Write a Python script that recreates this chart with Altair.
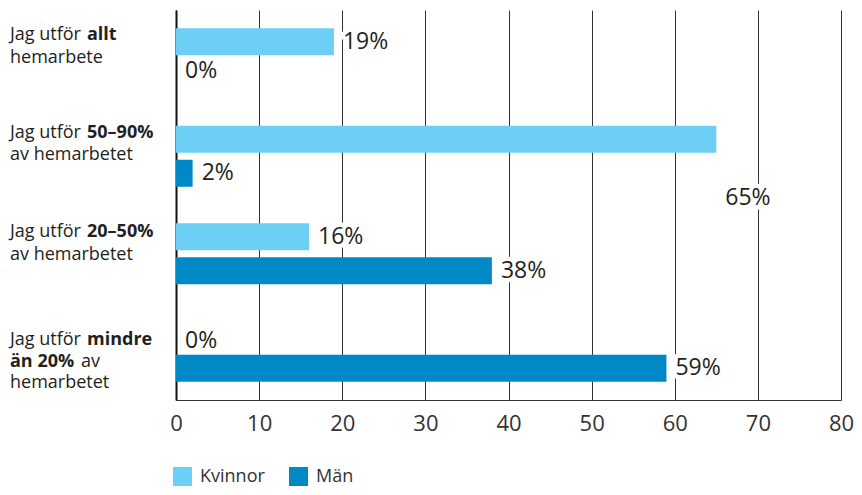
import altair as alt
import pandas as pd

# ---- data ----
categories = ["allt", "50-90", "20-50", "mindre"]
series = ["Kvinnor", "Män"]
kvinnor = [19, 65, 16, 0]
man = [0, 2, 38, 59]

# label nudges (layout only): (series, category) -> vertical pixel shift
label_nudge = {("Kvinnor", "50-90"): 59, ("Män", "allt"): -5, ("Kvinnor", "mindre"): 7}

rows = []
for c, k, m in zip(categories, kvinnor, man):
    for s, v in (("Kvinnor", k), ("Män", m)):
        rows.append({"cat": c, "series": s, "value": v, "label": f"{v}%",
                     "nudge": label_nudge.get((s, c), 0)})
df = pd.DataFrame(rows)

# category label fragments: (category, text, bold, x px, dy px)
fragments = [
    ("allt", "Jag utför", False, -166, -19), ("allt", "allt", True, -89, -19),
    ("allt", "hemarbete", False, -166, 4.5),
    ("50-90", "Jag utför", False, -166, -18), ("50-90", "50–90%", True, -89, -18),
    ("50-90", "av hemarbetet", False, -166, 4),
    ("20-50", "Jag utför", False, -166, -16.5), ("20-50", "20–50%", True, -89, -16.5),
    ("20-50", "av hemarbetet", False, -166, 6),
    ("mindre", "Jag utför", False, -166, -6), ("mindre", "mindre", True, -89, -6),
    ("mindre", "än 20%", True, -166, 15.5), ("mindre", "av", False, -95, 15.5),
    ("mindre", "hemarbetet", False, -166, 37),
]

FONT = "Open Sans"
LIGHT = "#6ECFF6"
DARK = "#0088C7"
TEXT = "#231F20"

y_enc = alt.Y("cat:N", sort=categories,
              scale=alt.Scale(paddingInner=0, paddingOuter=0),
              axis=alt.Axis(labels=False, ticks=False, title=None, grid=False,
                            domain=True, domainColor="#111", domainWidth=2))
x_enc = alt.X("value:Q", scale=alt.Scale(domain=[0, 80], nice=False),
              axis=alt.Axis(values=list(range(0, 81, 10)), grid=True, gridColor="#333",
                            gridWidth=1, ticks=False, domainColor="#333", domainWidth=1,
                            labelFont=FONT, labelFontSize=22, labelColor="#333",
                            labelPadding=13, labelFlush=False, title=None))
yoff_enc = alt.YOffset("series:N", sort=series,
                       scale=alt.Scale(paddingInner=0.206, paddingOuter=0.537))

base = alt.Chart(df)

bars = base.mark_bar().encode(
    x=x_enc, y=y_enc, yOffset=yoff_enc,
    color=alt.Color("series:N", sort=series,
                    scale=alt.Scale(domain=series, range=[LIGHT, DARK]),
                    legend=alt.Legend(title=None, orient="none", legendX=-3, legendY=457,
                                      direction="horizontal", symbolType="square",
                                      symbolSize=361, symbolStrokeWidth=0, padding=0,
                                      labelFont=FONT, labelFontSize=18, labelColor="#333",
                                      labelOffset=8, columnPadding=24)),
)

layers = [bars]
for nv in sorted(set(df["nudge"])):
    sub = base.transform_filter(alt.datum.nudge == nv)
    enc = dict(x=alt.X("value:Q"), y=alt.Y("cat:N", sort=categories),
               yOffset=alt.YOffset("series:N", sort=series), text="label:N")
    halo = sub.mark_text(align="left", baseline="middle", dx=9, dy=nv, font=FONT,
                         fontSize=23, fill="white", stroke="white", strokeWidth=9,
                         strokeJoin="round").encode(**enc)
    txt = sub.mark_text(align="left", baseline="middle", dx=9, dy=nv, font=FONT,
                        fontSize=23, color=TEXT).encode(**enc)
    layers += [halo, txt]

for c, t, bold, px, dy in fragments:
    fd = pd.DataFrame({"cat": [c], "t": [t]})
    layers.append(
        alt.Chart(fd).mark_text(align="left", baseline="alphabetic", dy=dy, font=FONT,
                                fontSize=18, fontWeight="bold" if bold else "normal",
                                color=TEXT).encode(
            x=alt.value(px), y=alt.Y("cat:N", sort=categories), text="t:N")
    )

chart = alt.layer(*layers).properties(
    width=665, height=390,
    padding={"left": 168, "top": 2, "right": 13, "bottom": 87},
    autosize=alt.AutoSizeParams(type="none"),
    background="white",
).configure_view(stroke=None)

chart.save("out.html", embed_options={"renderer": "svg", "actions": False})
